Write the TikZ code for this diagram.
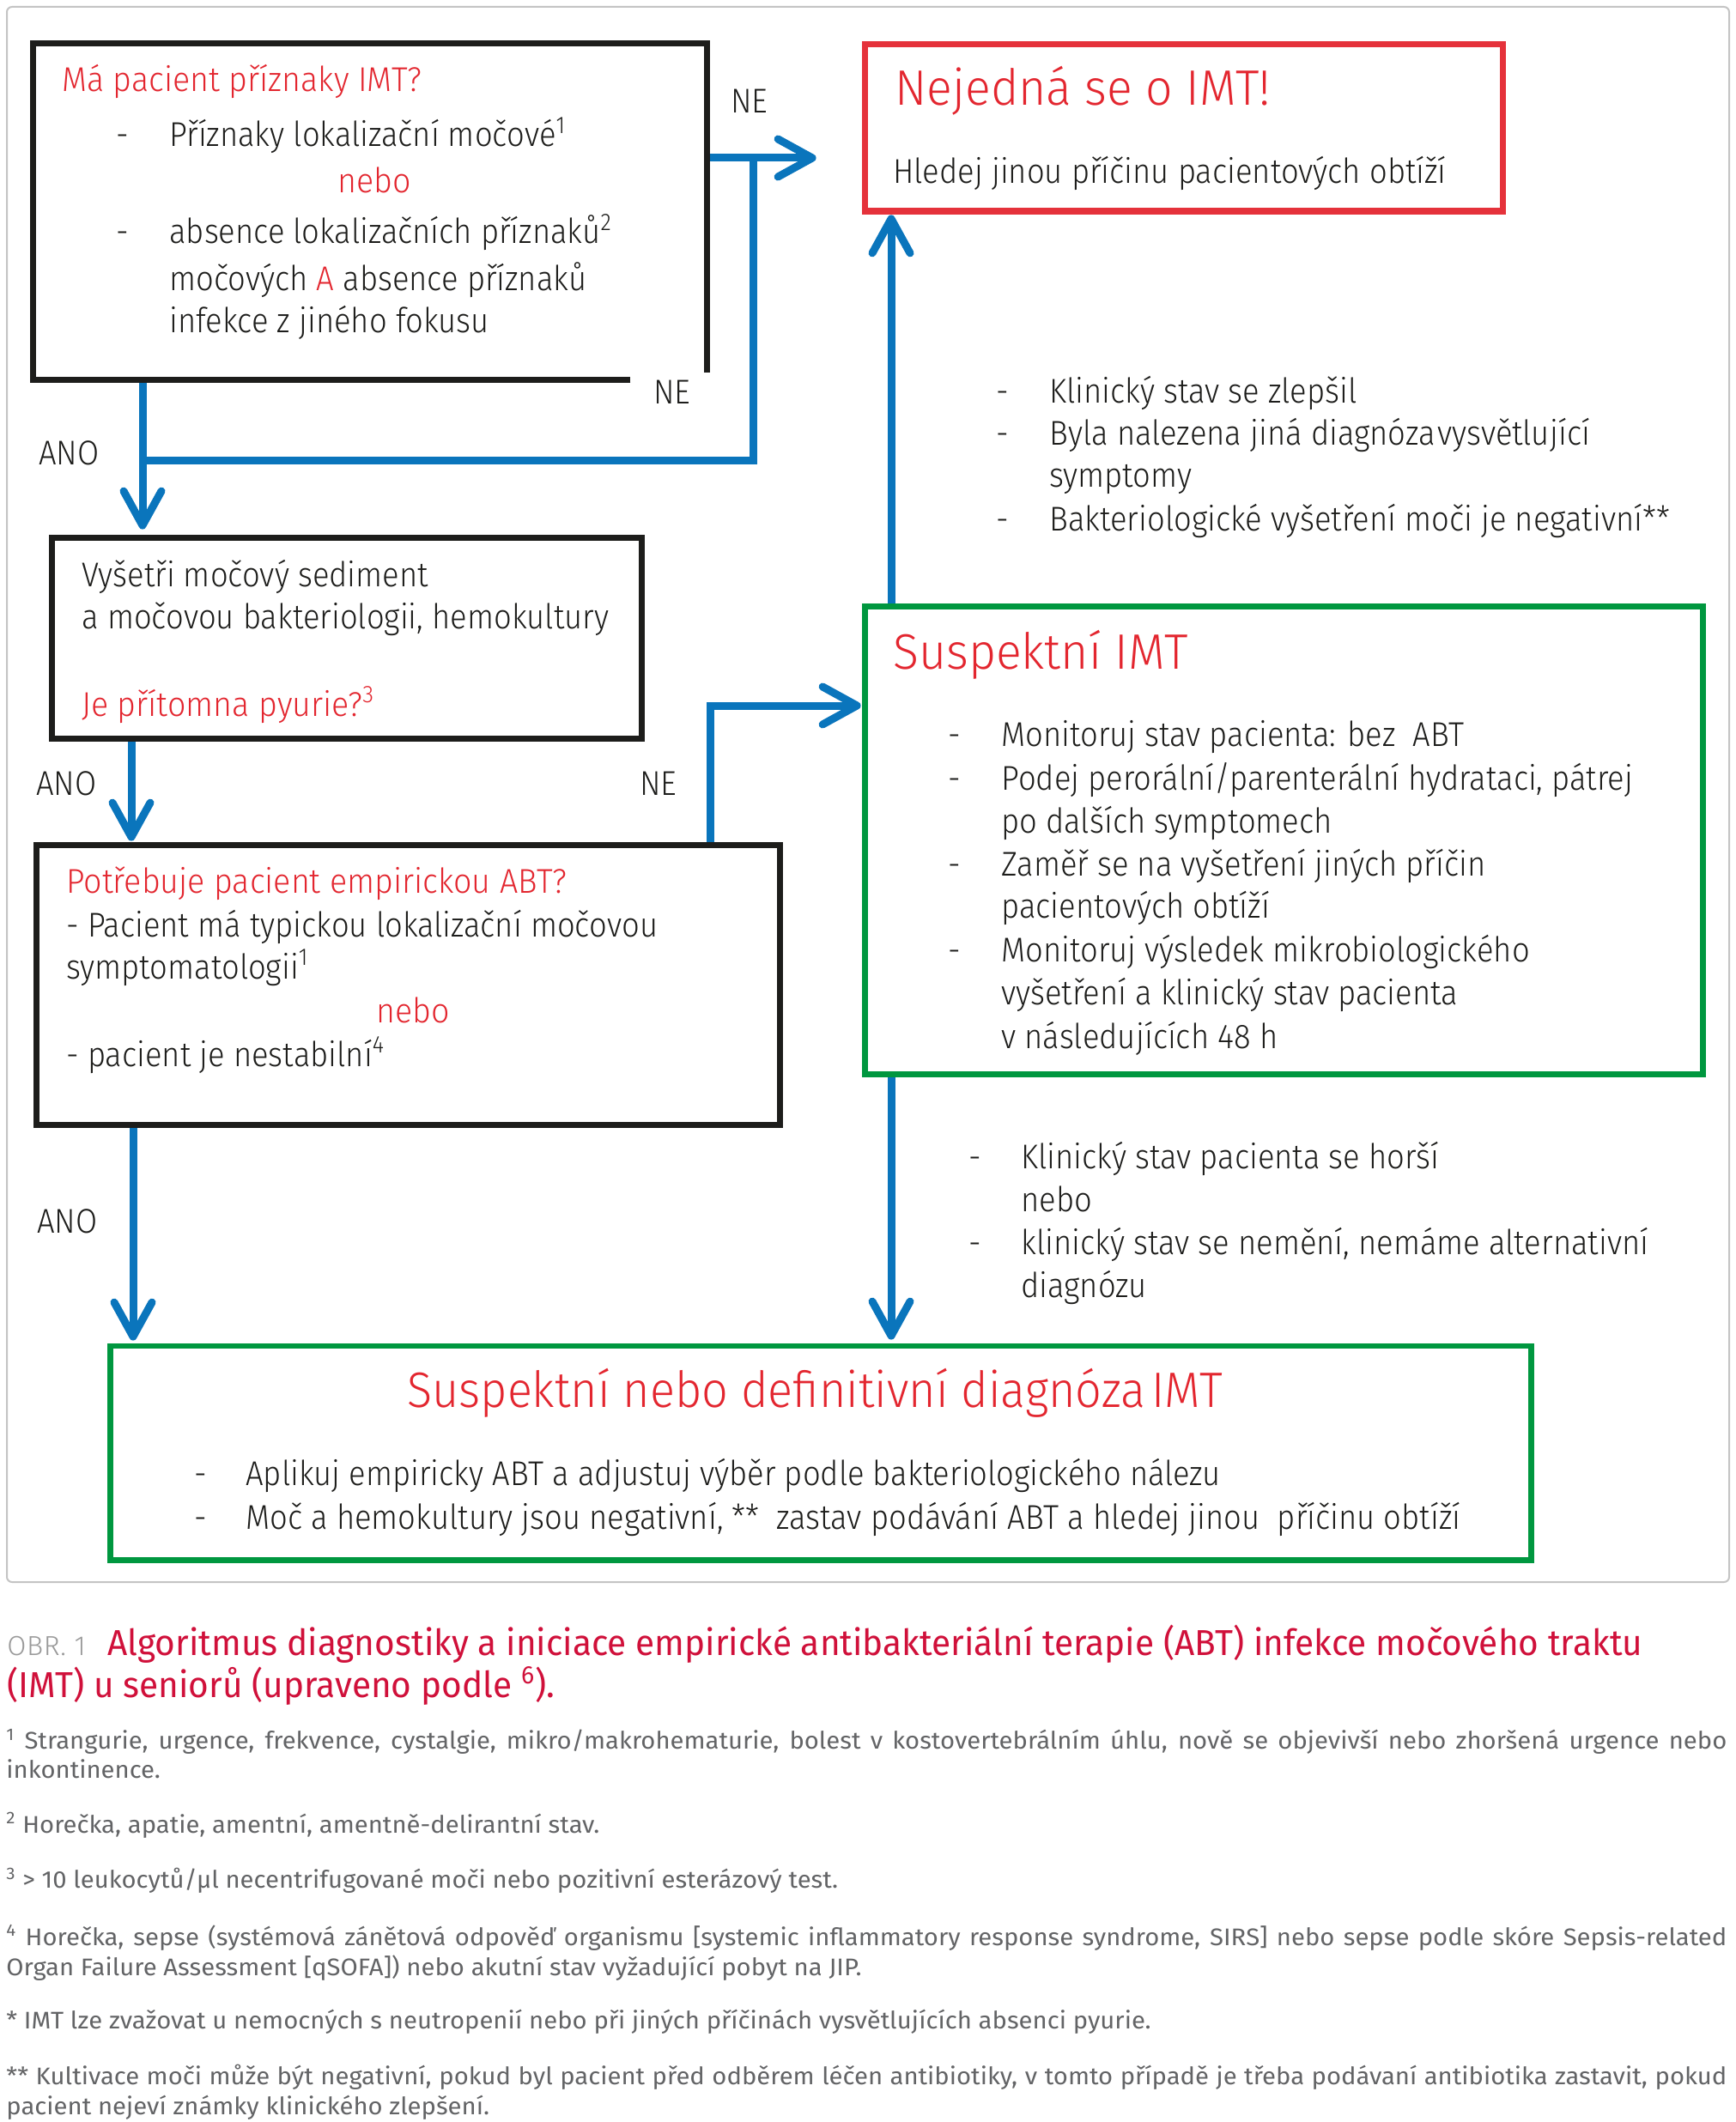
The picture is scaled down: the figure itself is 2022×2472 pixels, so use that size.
\documentclass[tikz,border=0pt]{standalone}
\usepackage{fontspec}
\setmainfont{Fira Sans Light}[FakeStretch=0.91]
\newfontfamily\redfont{Fira Sans Light}[FakeStretch=0.94]
\newfontfamily\bigfont{Fira Sans Light}[FakeStretch=0.955]
\newfontfamily\bigfontb{Fira Sans Light}[FakeStretch=0.93]
\newfontfamily\fnfont{Fira Sans}[FakeStretch=1.045]
\newfontfamily\capfont{Fira Sans}[FakeStretch=0.966]
\newfontfamily\obrfont{Fira Sans Light}[LetterSpace=2]
\usetikzlibrary{arrows.meta,fit}
\definecolor{ink}{HTML}{1D1D1B}
\definecolor{tred}{HTML}{E3262F}
\definecolor{bred}{HTML}{E5323B}
\definecolor{cred}{HTML}{D0103A}
\definecolor{fblue}{HTML}{0A75BC}
\definecolor{bgreen}{HTML}{00973F}
\definecolor{bblack}{HTML}{1D1D1B}
\definecolor{fngray}{HTML}{636466}
\definecolor{obrgray}{HTML}{9A9A9A}
\definecolor{framegray}{HTML}{C4C4C4}
\begin{document}
\begin{tikzpicture}[x=0.5pt,y=-0.5pt,
  txt/.style={inner sep=0pt, anchor=base west, text=ink, font=\fontsize{20}{25}\selectfont},
  rtxt/.style={txt, text=tred, font=\redfont\fontsize{20}{25}\selectfont},
  big/.style={inner sep=0pt, anchor=base west, text=tred, font=\bigfont\fontsize{29}{34}\selectfont},
  fn/.style={inner sep=0pt, anchor=base west, text=fngray, font=\fnfont\fontsize{14}{17}\selectfont},
  boxarea/.style={inner sep=0pt},
  boxk/.style={draw=bblack, line width=3.25pt},
  boxr/.style={draw=bred, line width=3.7pt},
  boxg/.style={draw=bgreen, line width=3.25pt},
  fline/.style={draw=fblue, line width=4.5pt},
  flow/.style={fline, -{Straight Barb[length=20pt,width=22pt,round]}, shorten <=1.6pt}
]
\useasboundingbox (0,0) rectangle (2022,2472);
\fill[white] (0,0) rectangle (2022,2472);
\draw[framegray, line width=1pt, rounded corners=3pt] (8,8) rectangle (2014,1843);

% box areas
\node[boxarea, fit={(39,51) (823,442)}] (b1) {};
\node[boxarea, fit={(1008,52) (1750,245.5)}] (b2) {};
\node[boxarea, fit={(61,627) (747,860)}] (b3) {};
\node[boxarea, fit={(43,985) (908,1310)}] (b4) {};
\node[boxarea, fit={(1008,707) (1983,1251)}] (b5) {};
\node[boxarea, fit={(129,1568.6) (1783,1817)}] (b6) {};

% helper coordinates
\coordinate (xa) at (166,0);
\coordinate (xc) at (877,0);
\coordinate (xd) at (153,0);
\coordinate (xe) at (827,0);
\coordinate (xf) at (155,0);
\coordinate (xg) at (1038,0);
\coordinate (ya) at (0,184);
\coordinate (yb) at (0,536);
\coordinate (yc) at (0,822);

% connectors
\draw[fline] (xa |- yb) -- (xc |- yb) -- (xc |- ya);
\draw[flow, shorten >=28.5pt] (b1.east |- ya) -- (b2.west |- ya);
\draw[flow, shorten >=5pt] (b1.south -| xa) -- (b3.north -| xa);
\draw[flow, shorten >=2.5pt] (b3.south -| xd) -- (b4.north -| xd);
\draw[flow, shorten >=2.5pt] (b4.north -| xe) |- (b5.west |- yc);
\draw[flow, shorten >=3.3pt] (b4.south -| xf) -- (b6.north -| xf);
\draw[flow, shorten >=3.8pt] (b5.south -| xg) -- (b6.north -| xg);
\draw[flow, shorten >=2.25pt] (b5.north -| xg) -- (b2.south -| xg);

% box borders
\draw[boxk] ([xshift=-44.5pt]b1.south east) -- (b1.south west) -- (b1.north west) -- (b1.north east) -- ([yshift=4pt]b1.south east);
\draw[boxr] (b2.south west) rectangle (b2.north east);
\draw[boxk] (b3.south west) rectangle (b3.north east);
\draw[boxk] (b4.south west) rectangle (b4.north east);
\draw[boxg] (b5.south west) rectangle (b5.north east);
\draw[boxg] (b6.south west) rectangle (b6.north east);

% box 1 text
\node[rtxt] (t1a) at (72,107) {Má pacient příznaky IMT?};
\node[txt] (d1a) at (135,171) {-};
\node[txt] (t1b) at (197,171) {Příznaky lokalizační močové\textsuperscript{1}};
\node[rtxt] (t1c) at (393,225) {nebo};
\node[txt] (d1b) at (135,284) {-};
\node[txt] (t1d) at (197,284) {absence lokalizačních příznaků\textsuperscript{2}};
\node[txt] (t1e) at (197,338) {močových {\color{tred}A} absence příznaků};
\node[txt] (t1f) at (197,387) {infekce z jiného fokusu};

% labels
\node[txt] (ne1) at (851,132) {NE};
\node[txt] (ne2) at (761,470) {NE};
\node[txt] (ano1) at (45,541) {ANO};
\node[txt] (ano2) at (42,926.5) {ANO};
\node[txt] (ne3) at (745,926.5) {NE};
\node[txt] (ano3) at (43,1436) {ANO};

% box 2 text
\node[big] (t2a) at (1042,123) {Nejedná se o IMT!};
\node[txt] (t2b) at (1040,214) {Hledej jinou příčinu pacientových obtíží};

% list between box 2 and 5
\node[txt] (d7a) at (1160,469) {-};
\node[txt] (d7b) at (1160,518) {-};
\node[txt] (d7c) at (1160,618) {-};
\node[txt] (t7a) at (1222,469) {Klinický stav se zlepšil};
\node[txt] (t7b) at (1222,518) {Byla nalezena jiná diagnóza\hspace{1.5pt}vysvětlující};
\node[txt] (t7c) at (1222,567) {symptomy};
\node[txt] (t7d) at (1222,618) {Bakteriologické vyšetření moči je negativní**};

% box 3 text
\node[txt] (t3a) at (95,683) {Vyšetři močový sediment};
\node[txt] (t3b) at (95,732) {a močovou bakteriologii, hemokultury};
\node[rtxt] (t3c) at (95,834) {Je přítomna pyurie?\textsuperscript{3}};

% box 4 text
\node[rtxt] (t4a) at (77,1040) {Potřebuje pacient empirickou ABT?};
\node[txt] (t4b) at (77,1091) {- Pacient má typickou lokalizační močovou};
\node[txt] (t4c) at (77,1140) {symptomatologii\textsuperscript{1}};
\node[rtxt] (t4d) at (438,1191) {nebo};
\node[txt] (t4e) at (77,1242) {- pacient je nestabilní\textsuperscript{4}};

% box 5 text
\node[big] (t5a) at (1040,779) {Suspektní IMT};
\node[txt] (d5a) at (1104,869) {-};
\node[txt] (d5b) at (1104,920) {-};
\node[txt] (d5c) at (1104,1020) {-};
\node[txt] (d5d) at (1104,1120) {-};
\node[txt] (t5b) at (1166,869) {Monitoruj stav pacienta: bez\ \ ABT};
\node[txt] (t5c) at (1166,920) {Podej perorální/parenterální hydrataci, pátrej};
\node[txt] (t5d) at (1166,970) {po dalších symptomech};
\node[txt] (t5e) at (1166,1020) {Zaměř se na vyšetření jiných příčin};
\node[txt] (t5f) at (1166,1069) {pacientových obtíží};
\node[txt] (t5g) at (1166,1120) {Monitoruj výsledek mikrobiologického};
\node[txt] (t5h) at (1166,1170) {vyšetření a klinický stav pacienta};
\node[txt] (t5i) at (1166,1221) {v následujících 48 h};

% list between box 5 and 6
\node[txt] (d8a) at (1128,1361) {-};
\node[txt] (d8b) at (1128,1461) {-};
\node[txt] (t8a) at (1189,1361) {Klinický stav pacienta se horší};
\node[txt] (t8b) at (1189,1411) {nebo};
\node[txt] (t8c) at (1189,1461) {klinický stav se nemění, nemáme alternativní};
\node[txt] (t8d) at (1189,1511) {diagnózu};

% box 6 text
\node[big, font=\bigfontb\fontsize{29}{34}\selectfont] (t6a) at (474,1639) {Suspektní nebo definitivní diagnóza\hspace{3.5pt}IMT};
\node[txt] (d6a) at (226,1730) {-};
\node[txt] (d6b) at (226,1781) {-};
\node[txt] (t6b) at (286,1730) {Aplikuj empiricky ABT a adjustuj výběr podle bakteriologického nálezu};
\node[txt] (t6c) at (286,1781) {Moč a hemokultury jsou negativní, **\ \ zastav podávání ABT a hledej jinou\ \ příčinu obtíží};

% caption
\node[inner sep=0pt, anchor=base west, text=obrgray, font=\obrfont\fontsize{16}{18}\selectfont] (obr) at (8,1928) {OBR. 1};
\node[inner sep=0pt, anchor=base west, text=cred, font=\capfont\fontsize{21}{25}\selectfont] (cap1) at (125,1928) {Algoritmus diagnostiky a iniciace empirické antibakteriální terapie (ABT) infekce močového traktu};
\node[inner sep=0pt, anchor=base west, text=cred, font=\capfont\fontsize{21}{25}\selectfont] (cap2) at (8,1977) {(IMT) u seniorů (upraveno podle \textsuperscript{6}).};

% footnotes
\node[fn] (f1a) at (7,2037.6) {\makebox[1002pt][s]{\textsuperscript{1} Strangurie, urgence, frekvence, cystalgie, mikro/makrohematurie, bolest v kostovertebrálním úhlu, nově se objevivší nebo zhoršená urgence nebo}};
\node[fn] (f1b) at (7,2071) {inkontinence.};
\node[fn] (f2) at (7,2135) {\textsuperscript{2} Horečka, apatie, amentní, amentně-delirantní stav.};
\node[fn] (f3) at (7,2199.6) {\textsuperscript{3} > 10 leukocytů/µl necentrifugované moči nebo pozitivní esterázový test.};
\node[fn] (f4a) at (7,2266) {\makebox[1002pt][s]{\textsuperscript{4} Horečka, sepse (systémová zánětová odpověď organismu [systemic inflammatory response syndrome, SIRS] nebo sepse podle skóre Sepsis-related}};
\node[fn] (f4b) at (7,2301) {Organ Failure Assessment [qSOFA]) nebo akutní stav vyžadující pobyt na JIP.};
\node[fn] (f5) at (7,2363.5) {* IMT lze zvažovat u nemocných s neutropenií nebo při jiných příčinách vysvětlujících absenci pyurie.};
\node[fn] (f6a) at (7,2428) {\makebox[1002pt][s]{** Kultivace moči může být negativní, pokud byl pacient před odběrem léčen antibiotiky, v tomto případě je třeba podávaní antibiotika zastavit, pokud}};
\node[fn] (f6b) at (7,2463) {pacient nejeví známky klinického zlepšení.};
\end{tikzpicture}
\end{document}
